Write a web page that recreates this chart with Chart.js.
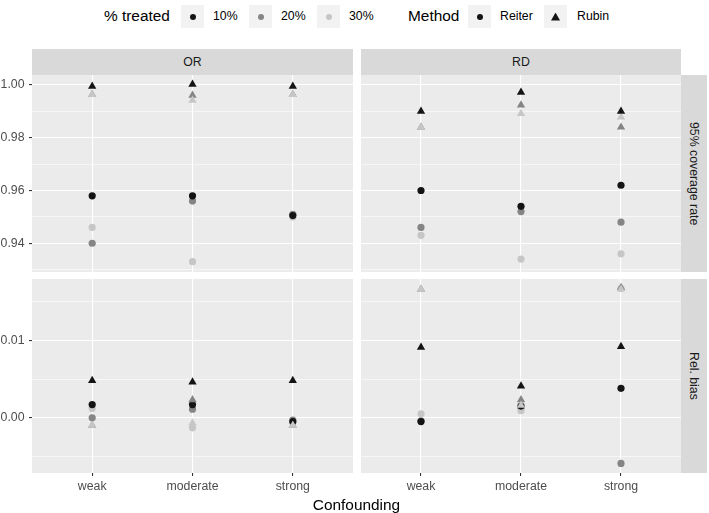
<!DOCTYPE html>
<html>
<head>
<meta charset="utf-8">
<script src="https://cdn.jsdelivr.net/npm/chart.js@4.4.0/dist/chart.umd.min.js"></script>
<style>
  body { margin: 0; background: #fff; font-family: 'Liberation Sans', Arial, sans-serif; }
  #wrap { position: relative; width: 709px; height: 513px; overflow: hidden; }
  canvas { position: absolute; }
  .strip { position: absolute; background: #d9d9d9; color: #1a1a1a; font-size: 12.3px;
           display: flex; align-items: center; justify-content: center; }
  .strip.v { writing-mode: vertical-rl; }
  .txt { position: absolute; white-space: nowrap; line-height: 1; }
  .key { position: absolute; top: 5px; width: 23px; height: 23px; background: #f2f2f2; }
  .dot { position: absolute; left: 8.5px; top: 8.5px; width: 6px; height: 6px; border-radius: 50%; }
  .tri { position: absolute; left: 7px; top: 7.5px; width: 9px; height: 8px;
         clip-path: polygon(50% 0, 100% 100%, 0 100%); background: #141414; }
</style>
</head>
<body>
<div id="wrap">
  <!-- legend -->
  <div class="txt" style="left:104px;top:8px;font-size:15.4px;color:#000">% treated</div>
  <div class="key" style="left:181px"><div class="dot" style="background:#141414"></div></div>
  <div class="txt" style="left:213px;top:10px;font-size:12.3px">10%</div>
  <div class="key" style="left:249px"><div class="dot" style="background:#858585"></div></div>
  <div class="txt" style="left:281px;top:10px;font-size:12.3px">20%</div>
  <div class="key" style="left:317px"><div class="dot" style="background:#c6c6c6"></div></div>
  <div class="txt" style="left:349px;top:10px;font-size:12.3px">30%</div>
  <div class="txt" style="left:408px;top:8px;font-size:15.4px;color:#000">Method</div>
  <div class="key" style="left:468px"><div class="dot" style="background:#141414"></div></div>
  <div class="txt" style="left:500px;top:10px;font-size:12.3px">Reiter</div>
  <div class="key" style="left:544px"><div class="tri"></div></div>
  <div class="txt" style="left:577px;top:10px;font-size:12.3px">Rubin</div>

  <!-- strips -->
  <div class="strip" style="left:32px;top:49px;width:321px;height:26px">OR</div>
  <div class="strip" style="left:361px;top:49px;width:320px;height:26px">RD</div>
  <div class="strip v" style="left:681px;top:75px;width:26px;height:197px">95% coverage rate</div>
  <div class="strip v" style="left:681px;top:279px;width:26px;height:194px">Rel. bias</div>

  <canvas id="orCov" width="353" height="197" style="left:0;top:75px"></canvas>
  <canvas id="rdCov" width="320" height="197" style="left:361px;top:75px"></canvas>
  <canvas id="orBias" width="353" height="221" style="left:0;top:279px"></canvas>
  <canvas id="rdBias" width="320" height="221" style="left:361px;top:279px"></canvas>

  <div class="txt" style="left:0;width:713px;text-align:center;top:497px;font-size:15.4px;color:#000">Confounding</div>
</div>

<script>
// categories on the x axis
const cats = ['weak', 'moderate', 'strong'];
const treated = ['10%', '20%', '30%'];

// each array: rows = % treated (10%, 20%, 30%), columns = weak, moderate, strong
const orCovReiter = [[0.958, 0.958, 0.9505], [0.940, 0.956, 0.951], [0.946, 0.933, 0.950]];
const orCovRubin  = [[0.9995, 1.0003, 0.9995], [0.9964, 0.9961, 0.9964], [0.9964, 0.9942, 0.9964]];
const rdCovReiter = [[0.960, 0.954, 0.962], [0.946, 0.952, 0.948], [0.943, 0.934, 0.936]];
const rdCovRubin  = [[0.990, 0.9972, 0.990], [0.984, 0.9924, 0.984], [0.984, 0.9892, 0.9878]];

const orBiasReiter = [[0.0017, 0.0017, -0.0005], [0.0000, 0.0011, -0.0003], [0.0012, -0.0013, -0.0006]];
const orBiasRubin  = [[0.0048, 0.0046, 0.0048], [-0.0010, 0.0023, -0.0010], [-0.0010, -0.0007, -0.0010]];
const rdBiasReiter = [[-0.0005, 0.0015, 0.0038], [-0.0004, 0.0013, -0.0059], [0.0005, 0.0009, 0.0167]];
const rdBiasRubin  = [[0.0091, 0.0041, 0.0092], [0.0166, 0.0023, 0.0168], [0.0166, 0.0016, 0.0166]];

// tick labels / breaks
const covMajor = [0.94, 0.96, 0.98, 1.00];
const covMinor = [0.93, 0.95, 0.97, 0.99];
const biasMajor = [0.00, 0.01];
const biasMinor = [-0.005, 0.005, 0.015];

const greys = ['#141414', '#858585', '#c6c6c6'];
const drawOrder = [0, 2, 1]; // 10% on top, then 30%, 20% underneath

const panelBg = {
  id: 'panelBg',
  beforeDraw(chart) {
    const a = chart.chartArea, ctx = chart.ctx;
    ctx.save();
    ctx.fillStyle = '#ebebeb';
    ctx.fillRect(a.left, a.top, a.right - a.left, a.bottom - a.top);
    ctx.restore();
  }
};

function isIn(list, v) {
  return list.some(m => Math.abs(m - v) < 1e-9);
}

// drop the label overhang padding so the plot area fills the canvas exactly
function noPad(s) {
  s.paddingTop = 0; s.paddingBottom = 0; s.paddingLeft = 0; s.paddingRight = 0;
}

function makePanel(id, reiter, rubin, yMin, yMax, major, minor, showX, showY) {
  const datasets = [];
  [[reiter, 'circle', 3.6, 3], [rubin, 'triangle', 4.8, 0]].forEach(([rows, shape, r, base]) => {
    rows.forEach((vals, k) => {
      datasets.push({
        label: treated[k],
        data: vals.map((v, i) => ({ x: i + 1, y: v })),
        pointStyle: shape,
        pointRadius: r,
        pointBorderWidth: 0,
        backgroundColor: greys[k],
        borderColor: greys[k],
        showLine: false,
        order: base + drawOrder[k]
      });
    });
  });

  new Chart(document.getElementById(id), {
    type: 'scatter',
    data: { datasets },
    options: {
      responsive: false,
      animation: false,
      events: [],
      layout: { padding: 0, autoPadding: false },
      plugins: { legend: { display: false }, tooltip: { enabled: false } },
      scales: {
        x: {
          type: 'linear', min: 0.4, max: 3.6,
          afterBuildTicks: s => { s.ticks = [1, 2, 3].map(v => ({ value: v })); },
          afterFit: s => { s.height = showX ? 27 : 0; noPad(s); },
          border: { display: false },
          grid: { color: '#ffffff', lineWidth: 1.1, tickColor: '#333333', tickLength: 3, drawTicks: showX },
          ticks: {
            display: showX, padding: 3, maxRotation: 0, autoSkip: false,
            color: '#4d4d4d', font: { size: 12.3, family: "'Liberation Sans', Arial, sans-serif" },
            callback: v => cats[v - 1]
          }
        },
        y: {
          type: 'linear', min: yMin, max: yMax,
          afterBuildTicks: s => { s.ticks = minor.concat(major).sort((a, b) => a - b).map(v => ({ value: v })); },
          afterFit: s => { s.width = showY ? 32 : 0; noPad(s); },
          border: { display: false },
          grid: {
            color: '#ffffff',
            lineWidth: c => isIn(major, c.tick.value) ? 1.1 : 0.55,
            tickColor: c => isIn(major, c.tick.value) ? '#333333' : 'rgba(0,0,0,0)',
            tickLength: 3, drawTicks: showY
          },
          ticks: {
            display: showY, padding: 4.5, autoSkip: false,
            color: '#4d4d4d', font: { size: 12.3, family: "'Liberation Sans', Arial, sans-serif" },
            callback: v => isIn(major, v) ? v.toFixed(2) : ''
          }
        }
      }
    },
    plugins: [panelBg]
  });
}

makePanel('orCov', orCovReiter, orCovRubin, 0.9291, 1.0038, covMajor, covMinor, false, true);
makePanel('rdCov', rdCovReiter, rdCovRubin, 0.9291, 1.0038, covMajor, covMinor, false, false);
makePanel('orBias', orBiasReiter, orBiasRubin, -0.00714, 0.01792, biasMajor, biasMinor, true, true);
makePanel('rdBias', rdBiasReiter, rdBiasRubin, -0.00714, 0.01792, biasMajor, biasMinor, true, false);
</script>
</body>
</html>
